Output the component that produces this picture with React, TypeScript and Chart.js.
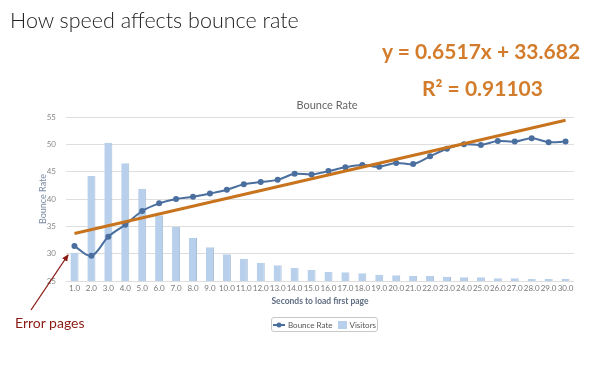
import React, { useEffect, useRef } from "react";
import { Chart, registerables } from "chart.js";

Chart.register(...registerables);

const categories = [
  "1.0", "2.0", "3.0", "4.0", "5.0", "6.0", "7.0", "8.0", "9.0", "10.0",
  "11.0", "12.0", "13.0", "14.0", "15.0", "16.0", "17.0", "18.0", "19.0", "20.0",
  "21.0", "22.0", "23.0", "24.0", "25.0", "26.0", "27.0", "28.0", "29.0", "30.0",
];

const bounceRate = [
  31.4, 29.6, 33.1, 35.3, 37.8, 39.2, 40.0, 40.4, 41.0, 41.7,
  42.7, 43.1, 43.5, 44.6, 44.5, 45.1, 45.8, 46.2, 45.9, 46.6,
  46.4, 47.8, 49.2, 50.0, 49.9, 50.6, 50.5, 51.1, 50.4, 50.5,
];

const visitors = [
  20.7, 76.8, 101.2, 86.1, 67.5, 48.1, 39.7, 31.7, 24.7, 19.5,
  16.3, 13.2, 11.5, 9.5, 8.0, 6.8, 6.4, 5.6, 4.6, 4.2,
  3.7, 3.7, 3.1, 2.7, 2.7, 2.0, 2.0, 1.5, 1.5, 1.7,
];

// trend line read at its two ends (x = 1.0 and x = 30.0)
const trendStart = 33.7;
const trendEnd = 54.4;
const trendLine = categories.map((_, i) =>
  i === 0 ? trendStart : i === categories.length - 1 ? trendEnd : null
);

const yTicks = [25, 30, 35, 40, 45, 50, 55];

const FONT = "Lato, 'DejaVu Sans', sans-serif";

export default function App() {
  const ref = useRef<HTMLCanvasElement | null>(null);

  useEffect(() => {
    if (!ref.current) return;
    const chart = new Chart(ref.current, {
      type: "bar",
      data: {
        labels: categories,
        datasets: [
          {
            type: "line",
            label: "Trend",
            data: trendLine,
            borderColor: "#c8741f",
            borderWidth: 3,
            pointRadius: 0,
            spanGaps: true,
            yAxisID: "y",
            order: 1,
          } as any,
          {
            type: "line",
            label: "Bounce Rate",
            data: bounceRate,
            borderColor: "#4a6f9f",
            backgroundColor: "#4a6f9f",
            borderWidth: 2,
            pointRadius: 3,
            pointBackgroundColor: "#4a6f9f",
            pointBorderWidth: 0,
            tension: 0.35,
            yAxisID: "y",
            order: 2,
          } as any,
          {
            type: "bar",
            label: "Visitors",
            data: visitors,
            backgroundColor: "#b8d0ec",
            borderColor: "#a9bdd6",
            borderWidth: { right: 1, left: 0, top: 0, bottom: 0 },
            barPercentage: 0.5,
            categoryPercentage: 0.95,
            yAxisID: "y1",
            order: 3,
          } as any,
        ],
      },
      options: {
        animation: false,
        responsive: false,
        maintainAspectRatio: false,
        layout: { padding: { top: 117, left: 33, right: 38, bottom: 72 } },
        plugins: {
          legend: { display: false },
          title: { display: false },
          tooltip: { enabled: false },
        },
        scales: {
          x: {
            afterFit: (s: any) => {
              s.height = 28;
            },
            grid: { display: false, drawTicks: false },
            border: { display: false },
            ticks: {
              autoSkip: false,
              maxRotation: 0,
              minRotation: 0,
              padding: 3,
              color: "#7a7a7a",
              font: { family: FONT, size: 8 },
            },
            title: {
              display: true,
              text: "Seconds to load first page",
              color: "#5f6d82",
              font: { family: FONT, size: 8.5, weight: "bold" },
              padding: { top: 0, bottom: 3 },
            },
          },
          y: {
            min: 25,
            max: 55,
            afterFit: (s: any) => {
              s.width = 33;
            },
            afterBuildTicks: (s: any) => {
              s.ticks = yTicks.map((v) => ({ value: v }));
            },
            grid: { color: "#dedede", lineWidth: 1, drawTicks: false },
            border: { display: false },
            ticks: {
              padding: 10,
              color: "#888",
              font: { family: FONT, size: 8 },
            },
            title: {
              display: true,
              text: "Bounce Rate",
              color: "#7b8ba3",
              font: { family: FONT, size: 9 },
              padding: { top: 5, bottom: 0 },
            },
          },
          y1: {
            display: false,
            min: 0,
            max: 120,
          },
        },
      },
    });
    return () => chart.destroy();
  }, []);

  return (
    <div
      style={{
        position: "fixed",
        left: 0,
        top: 0,
        width: 612,
        height: 381,
        background: "#fff",
        overflow: "hidden",
        fontFamily: FONT,
      }}
    >
      <canvas ref={ref} width={612} height={381} style={{ display: "block", position: "absolute", left: 0, top: 0 }} />
      <div
        style={{
          position: "absolute",
          left: 10,
          top: 10,
          fontSize: 21.5,
          lineHeight: "21.5px",
          fontWeight: 300,
          color: "#222",
          whiteSpace: "nowrap",
        }}
      >
        How speed affects bounce rate
      </div>
      <div
        style={{
          position: "absolute",
          left: 382,
          top: 39.5,
          fontSize: 21,
          lineHeight: "21px",
          fontWeight: 700,
          color: "#d27c2c",
          whiteSpace: "nowrap",
        }}
      >
        y = 0.6517x + 33.682
      </div>
      <div
        style={{
          position: "absolute",
          left: 422,
          top: 76.5,
          fontSize: 21,
          lineHeight: "21px",
          fontWeight: 700,
          color: "#d27c2c",
          whiteSpace: "nowrap",
        }}
      >
        R² = 0.91103
      </div>
      <div
        style={{
          position: "absolute",
          left: 227,
          top: 99,
          width: 200,
          textAlign: "center",
          fontSize: 11,
          lineHeight: "12px",
          color: "#666",
        }}
      >
        Bounce Rate
      </div>
      <div
        style={{
          position: "absolute",
          left: 271,
          top: 317,
          width: 105,
          height: 13,
          border: "1px solid #c8c8c8",
          borderRadius: 3,
          display: "flex",
          alignItems: "center",
          justifyContent: "center",
          fontSize: 8,
          color: "#555",
          whiteSpace: "nowrap",
        }}
      >
        <svg width="12" height="8" style={{ marginRight: 3 }}>
          <line x1="0" y1="4" x2="12" y2="4" stroke="#4a6f9f" strokeWidth="2" />
          <circle cx="6" cy="4" r="2.5" fill="#4a6f9f" />
        </svg>
        <span>Bounce Rate</span>
        <span
          style={{
            display: "inline-block",
            width: 9,
            height: 8,
            background: "#b8d0ec",
            marginLeft: 5,
            marginRight: 3,
          }}
        />
        <span>Visitors</span>
      </div>
      <svg width="612" height="381" style={{ position: "absolute", left: 0, top: 0, pointerEvents: "none" }}>
        <defs>
          <marker id="ah" markerWidth="8" markerHeight="8" refX="6" refY="4" orient="auto" markerUnits="userSpaceOnUse">
            <path d="M0,1 L7,4 L0,7 Z" fill="#8b1a14" />
          </marker>
        </defs>
        <line x1="31" y1="310" x2="68" y2="255" stroke="#8b1a14" strokeWidth="1.3" markerEnd="url(#ah)" />
      </svg>
      <div
        style={{
          position: "absolute",
          left: 15,
          top: 315.5,
          fontSize: 14,
          lineHeight: "14px",
          color: "#8b1a14",
          whiteSpace: "nowrap",
        }}
      >
        Error pages
      </div>
    </div>
  );
}
